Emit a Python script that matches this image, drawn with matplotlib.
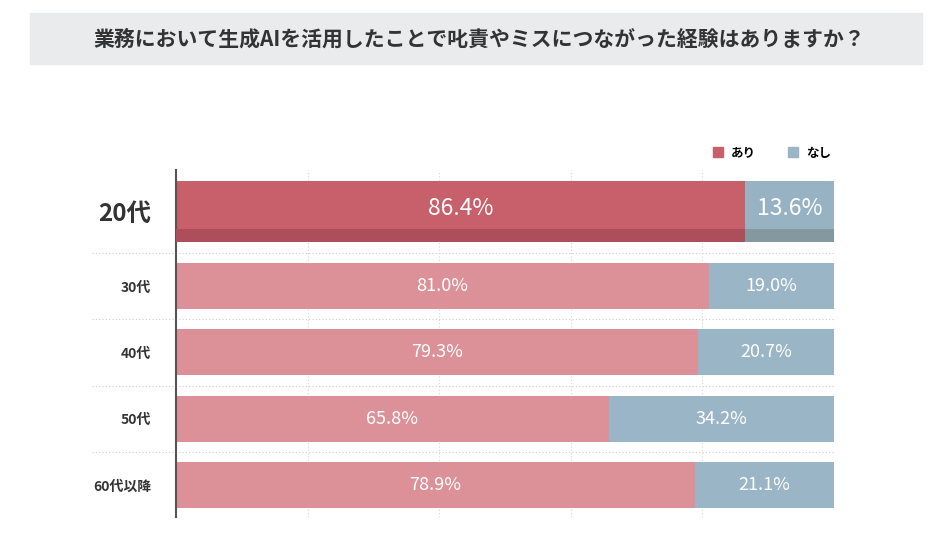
import matplotlib
matplotlib.use("Agg")
import matplotlib.pyplot as plt
from matplotlib.patches import Rectangle, Patch

plt.rcParams['font.family'] = ['Noto Sans CJK JP', 'DejaVu Sans']

title = "業務において生成AIを活用したことで叱責やミスにつながった経験はありますか？"
groups = ["20代", "30代", "40代", "50代", "60代以降"]
ari = [86.4, 81.0, 79.3, 65.8, 78.9]
nashi = [13.6, 19.0, 20.7, 34.2, 21.1]
series_names = ["あり", "なし"]

# colours
ARI_HI, ARI_HI_DARK = "#c8606b", "#ad4f5a"
NASHI_HI, NASHI_HI_DARK = "#97b2c3", "#84999f"
ARI, NASHI = "#dc9199", "#9ab5c5"

W, H = 940, 550
fig = plt.figure(figsize=(W / 100, H / 100), dpi=100)

# title box
fig.patches.append(Rectangle((30 / W, 1 - 64 / H), 892 / W, 51 / H,
                             transform=fig.transFigure, color="#e9ebed", zorder=0))
fig.text(479 / W, 1 - 39 / H, title, ha="center", va="center",
         fontsize=15, fontweight="bold", color="#333333")

ax = fig.add_axes([176 / W, 1 - 517 / H, 658 / W, 347 / H])
ax.set_xlim(0, 100)
ax.set_ylim(5.23, 0)

# row layout (in row units)
centers = [0.626] + [0.75 + i for i in range(1, len(groups))]
heights = [0.92] + [0.694] * (len(groups) - 1)

for i, (g, a, n) in enumerate(zip(groups, ari, nashi)):
    c, h = centers[i], heights[i]
    hi = i == 0
    ax.barh(c, a, height=h, left=0, color=ARI_HI if hi else ARI, zorder=2)
    ax.barh(c, n, height=h, left=a, color=NASHI_HI if hi else NASHI, zorder=2)
    if hi:
        strip = 0.196
        sc = c + h / 2 - strip / 2
        ax.barh(sc, a, height=strip, left=0, color=ARI_HI_DARK, zorder=3)
        ax.barh(sc, n, height=strip, left=a, color=NASHI_HI_DARK, zorder=3)
    fs = 16.5 if hi else 13
    tc = c - 0.05 if hi else c
    ax.text(a / 2, tc, f"{a:.1f}%", ha="center", va="center", color="white",
            fontsize=fs, zorder=4)
    ax.text(a + n / 2, tc, f"{n:.1f}%", ha="center", va="center", color="white",
            fontsize=fs, zorder=4)

# dotted row separators, extending past the axis to the left
for i in range(1, len(groups)):
    y = i + 0.25
    ax.plot([-0.128, 1.0], [y, y], transform=ax.get_yaxis_transform(),
            color="#cccccc", lw=0.8, ls=(0, (1, 2)), clip_on=False, zorder=1)

# dotted vertical gridlines
for x in [20, 40, 60, 80, 100]:
    ax.axvline(x, color="#d5d5d5", lw=0.8, ls=(0, (1, 2)), zorder=1)

ax.set_yticks(centers)
ax.set_yticklabels(groups)
for i, lab in enumerate(ax.get_yticklabels()):
    lab.set_fontweight("bold")
    lab.set_color("#333333")
    lab.set_fontsize(17.5 if i == 0 else 10)
ax.tick_params(axis="y", length=0, pad=18)
ax.set_xticks([])

for s in ["top", "right", "bottom"]:
    ax.spines[s].set_visible(False)
ax.spines["left"].set_color("#555555")
ax.spines["left"].set_linewidth(1.5)

handles = [Patch(color=ARI_HI), Patch(color=NASHI)]
fig.legend(handles, series_names, loc="center right",
           bbox_to_anchor=(842 / W, 1 - 153 / H), ncol=2, frameon=False,
           handlelength=0.8, handleheight=0.8, handletextpad=0.6,
           columnspacing=2.6, prop={"size": 9, "weight": "bold"})

fig.savefig("out.png", dpi=100, facecolor="white")
